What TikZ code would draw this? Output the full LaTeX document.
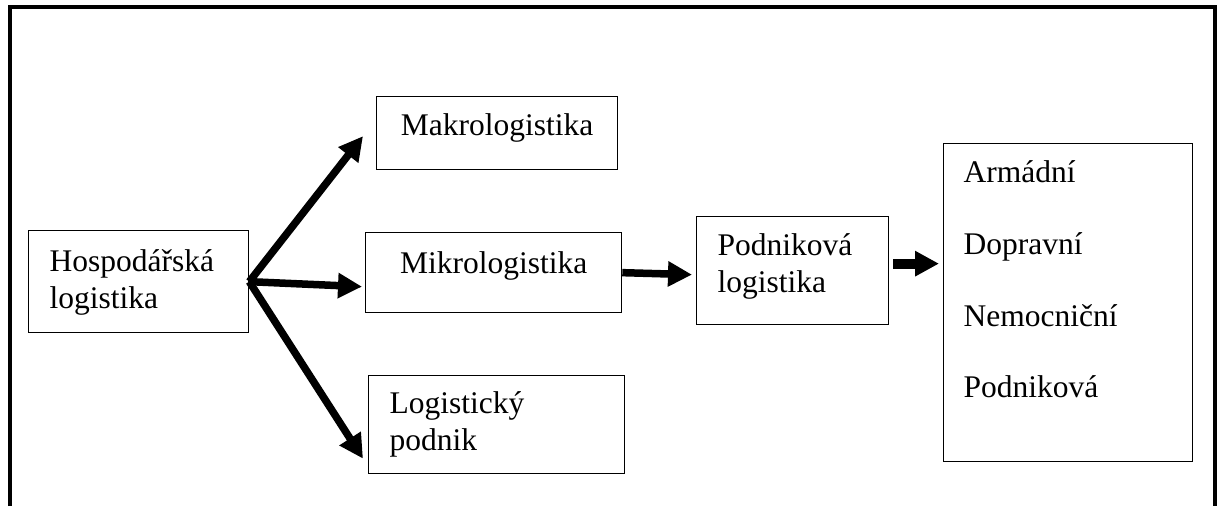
\documentclass[tikz,border=0pt]{standalone}
\usepackage{fontspec}
\setmainfont{Liberation Serif}
\usetikzlibrary{arrows.meta,calc}

\begin{document}
\begin{tikzpicture}[x=1pt,y=-1pt,
  box/.style={draw, line width=1.3pt, anchor=north west, inner ysep=0pt,
              font=\fontsize{31.5}{37}\selectfont},
  arr/.style={line width=7.5pt, -{Triangle[length=24pt,width=24pt]}},
  bigarr/.style={line width=10pt, -{Triangle[length=24pt,width=24pt]}}]
  \useasboundingbox (0,0) rectangle (1218,506);

  % open frame (no bottom edge)
  \draw[line width=4pt, line join=miter] (10,506) -- (10,7) -- (1215,7) -- (1215,506);

  % boxes
  \node[box, inner xsep=21pt, text width=178pt, align=left,
        text height=41pt, text depth=61pt] (hosp) at (28,230)
        {Hospodářská\\logistika};
  \node[box, inner xsep=0pt, text width=241pt, align=center,
        text height=39pt, text depth=34pt] (makro) at (376,96)
        {Makrologistika};
  \node[box, inner xsep=0pt, text width=256pt, align=center,
        text height=41pt, text depth=39pt] (mikro) at (365,232)
        {Mikrologistika};
  \node[box, inner xsep=21pt, text width=214pt, align=left,
        text height=38pt, text depth=60pt] (logis) at (368,375)
        {Logistický\\podnik};
  \node[box, inner xsep=21pt, text width=150pt, align=left,
        text height=39pt, text depth=69pt] (podlog) at (696,216)
        {Podniková\\logistika};
  \node[box, inner xsep=20pt, text width=209pt, align=left,
        font=\fontsize{31.5}{71.7}\selectfont,
        text height=39pt, text depth=279pt] (druhy) at (943,143)
        {Armádní\\Dopravní\\Nemocniční\\Podniková};

  % arrows
  \draw[arr] (hosp.east) -- ($(makro.west)+(-13,3)$);
  \draw[arr] (hosp.east) -- ($(mikro.west)+(-3,14)$);
  \draw[arr] (hosp.east) -- ($(logis.west)+(-5,34)$);
  \draw[arr] (mikro.east) -- ($(podlog.west)+(-4,4)$);
  \draw[bigarr] ($(podlog.east)+(4,-7)$) -- ($(druhy.west)+(-4,-39)$);
\end{tikzpicture}
\end{document}
